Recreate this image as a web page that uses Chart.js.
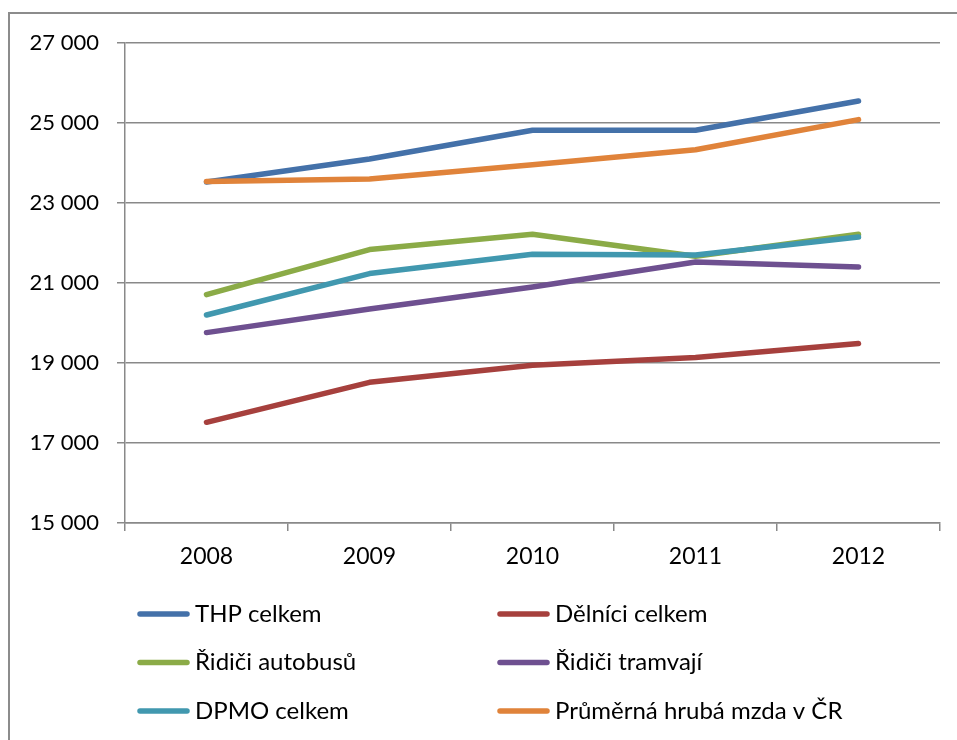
<!DOCTYPE html>
<html>
<head>
<meta charset="utf-8">
<script src="https://cdn.jsdelivr.net/npm/chart.js@4/dist/chart.umd.min.js"></script>
<style>
  html, body { margin: 0; padding: 0; background: #fff; overflow: hidden; }
  #c { display: block; }
</style>
</head>
<body>
<canvas id="c" width="957" height="740"></canvas>
<script>
// ---- data ----
const categories = ['2008', '2009', '2010', '2011', '2012'];
const seriesNames = ['THP celkem', 'Dělníci celkem', 'Řidiči autobusů', 'Řidiči tramvají', 'DPMO celkem', 'Průměrná hrubá mzda v ČR'];
const thpCelkem        = [23525, 24100, 24817, 24817, 25550];
const delniciCelkem    = [17517, 18517, 18942, 19135, 19485];
const ridiciAutobusu   = [20710, 21835, 22217, 21667, 22217];
const ridiciTramvaji   = [19760, 20350, 20900, 21525, 21400];
const dpmoCelkem       = [20200, 21235, 21717, 21700, 22150];
const prumernaMzdaCR   = [23540, 23600, 23958, 24333, 25085];
const yMin = 15000, yMax = 27000, yStep = 2000;

// ---- styles ----
const seriesColors = ['#4471A9', '#A6403D', '#8BAB47', '#6E5090', '#4198AF', '#E0833A'];
const gridColor = '#898989';
const FONT = 'Lato, "Open Sans", sans-serif';

const seriesValues = [thpCelkem, delniciCelkem, ridiciAutobusu, ridiciTramvaji, dpmoCelkem, prumernaMzdaCR];

function fmt(n) {
  return String(Math.round(n)).replace(/\B(?=(\d{3})+(?!\d))/g, ' ');
}

const datasets = seriesValues.map((vals, i) => ({
  label: seriesNames[i],
  data: vals,
  borderColor: seriesColors[i],
  backgroundColor: seriesColors[i],
  borderWidth: 5.5,
  borderCapStyle: 'round',
  borderJoinStyle: 'round',
  pointRadius: 0,
  pointHoverRadius: 0,
  tension: 0,
  fill: false,
  order: seriesValues.length - i
}));

const frameAndLegend = {
  id: 'frameAndLegend',
  beforeDraw(chart) {
    const ctx = chart.ctx;
    ctx.save();
    ctx.strokeStyle = '#8c8c8c';
    ctx.lineWidth = 2;
    ctx.strokeRect(9, 13, chart.width + 50, chart.height + 50);
    ctx.restore();
  },
  afterDraw(chart) {
    const ctx = chart.ctx;
    const area = chart.chartArea;
    ctx.save();
    ctx.font = '24px ' + FONT;
    ctx.textBaseline = 'middle';
    ctx.textAlign = 'left';
    const colX = [area.left + 12, area.left + 372];
    const rowY0 = area.bottom + 91, rowGap = 48.5;
    chart.data.datasets.forEach((ds, i) => {
      const col = i % 2, row = Math.floor(i / 2);
      const x = colX[col], y = rowY0 + row * rowGap;
      ctx.strokeStyle = ds.borderColor;
      ctx.lineWidth = 5.5;
      ctx.lineCap = 'round';
      ctx.beginPath();
      ctx.moveTo(x + 3, y);
      ctx.lineTo(x + 50, y);
      ctx.stroke();
      ctx.fillStyle = '#000';
      ctx.fillText(ds.label, x + 58, y);
    });
    ctx.restore();
  }
};

new Chart(document.getElementById('c'), {
  type: 'line',
  data: { labels: categories, datasets },
  plugins: [frameAndLegend],
  options: {
    responsive: false,
    animation: false,
    devicePixelRatio: 1,
    layout: { padding: { top: 43, left: 0, right: 17, bottom: 0 } },
    plugins: { legend: { display: false }, tooltip: { enabled: false } },
    scales: {
      x: {
        type: 'category',
        offset: true,
        afterFit: (s) => { s.height = 217; },
        grid: { offset: true, drawOnChartArea: false, drawTicks: true, tickLength: 8, color: gridColor, lineWidth: 1.5 },
        border: { display: true, color: gridColor, width: 1.5 },
        ticks: { color: '#000', font: { family: FONT, size: 23 }, padding: 12, maxRotation: 0 }
      },
      y: {
        min: yMin, max: yMax,
        afterFit: (s) => { s.width = 125; },
        grid: { drawOnChartArea: true, drawTicks: true, tickLength: 8, color: gridColor, lineWidth: 1.5 },
        border: { display: true, color: gridColor, width: 1.5 },
        ticks: { stepSize: yStep, color: '#000', font: { family: FONT, size: 22 }, padding: 18, callback: (v) => fmt(v) }
      }
    }
  }
});
</script>
</body>
</html>
